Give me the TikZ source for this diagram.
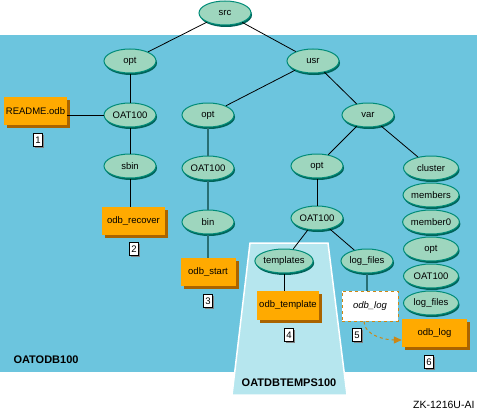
\documentclass[tikz,border=0pt]{standalone}
\usepackage{fontspec}
\setmainfont{Liberation Sans}
\usetikzlibrary{shapes.geometric,shadows,arrows.meta}

\definecolor{bgblue}{RGB}{108,197,222}
\definecolor{panelcyan}{RGB}{182,230,238}
\definecolor{mint}{RGB}{158,214,190}
\definecolor{tealedge}{RGB}{0,140,120}
\definecolor{tealshadow}{RGB}{0,100,90}
\definecolor{tealline}{RGB}{40,110,115}
\definecolor{boxorange}{RGB}{255,170,0}
\definecolor{boxshadow}{RGB}{170,100,0}
\definecolor{dashorange}{RGB}{205,135,20}

\tikzset{
  dir/.style={ellipse, draw=tealedge, line width=1pt, fill=mint,
    minimum width=52pt, minimum height=24pt, inner sep=0pt,
    drop shadow={shadow xshift=1pt, shadow yshift=-2pt, fill=tealshadow, opacity=1}},
  file/.style={rectangle, fill=boxorange, minimum height=28pt, inner sep=0pt,
    drop shadow={shadow xshift=3pt, shadow yshift=-3pt, fill=boxshadow, opacity=1}},
  ghost/.style={rectangle, fill=white, draw=dashorange, dashed, line width=1pt,
    minimum height=30pt, inner sep=0pt},
  tag/.style={rectangle, draw=black, fill=white, line width=0.6pt, inner sep=0pt,
    minimum width=9pt, minimum height=13pt,
    drop shadow={shadow xshift=1pt, shadow yshift=-1pt, fill=gray, opacity=1}},
  link/.style={line width=0.8pt},
  tlink/.style={draw=tealline, line width=1.6pt},
  caption/.style={font=\fontsize{11}{12}\selectfont\bfseries},
}

\begin{document}
\begin{tikzpicture}[x=1pt, y=-1pt, font=\fontsize{9.5}{11}\selectfont]
        \useasboundingbox (0,0) rectangle (478,412);
        \fill [bgblue]    (0,35) rectangle (477,372);                          % OATODB100 area
        \draw [line width=1.5pt, draw=white, fill=panelcyan]
                          (250,243) -- (328,243) -- (347,395) -- (232,395) -- cycle; % OATDBTEMPS100 area

        \node [dir] (src)     at (225,13)  {src};          %
        \node [dir] (optA)    at (130,61)  {opt};          %
        \node [dir] (usr)     at (313,61)  {usr};          %
        \node [dir] (oatA)    at (130,115) {OAT100};       %
        \node [dir] (sbin)    at (130,166) {sbin};         %
        \node [dir] (optB)    at (208,115) {opt};          %
        \node [dir] (oatB)    at (208,168) {OAT100};       %
        \node [dir] (bin)     at (208,222) {bin};          %
        \node [dir] (var)     at (368,115) {var};          %
        \node [dir] (optC)    at (317,166) {opt};          %
        \node [dir] (oatC)    at (317,218) {OAT100};       %
        \node [dir] (tmpl)    at (284,261) {templates};    %
        \node [dir] (logC)    at (367,261) {log\_files};   %

        \node [dir, minimum width=55pt] (cluster) at (431,168) {cluster};    % cluster stack
        \node [dir, minimum width=55pt] (members) at (431,195) {members};    %
        \node [dir, minimum width=55pt] (memzero) at (431,222) {member0};    %
        \node [dir, minimum width=55pt] (optD)    at (431,249) {opt};        %
        \node [dir, minimum width=55pt] (oatD)    at (431,276) {OAT100};     %
        \node [dir, minimum width=55pt] (logD)    at (431,303) {log\_files}; %

        \node [file, minimum width=63pt] (readme)   at (35.5,111)  {README.odb};   %1
        \node [file, minimum width=63pt] (recover)  at (133.5,221) {odb\_recover}; %2
        \node [file, minimum width=55pt] (start)    at (208,272)   {odb\_start};   %3
        \node [file, minimum width=62pt, minimum height=29pt]
                                         (template) at (288,305.5) {odb\_template};%4
        \node [ghost, minimum width=56pt] (dlog)    at (370,306)   {\itshape odb\_log}; %5
        \node [file, minimum width=65pt] (log)      at (434.5,333) {odb\_log};     %6

        \node [tag] (n1) at (38,140)  {1};
        \node [tag] (n2) at (134,249) {2};
        \node [tag] (n3) at (208,301) {3};
        \node [tag] (n4) at (289,335) {4};
        \node [tag] (n5) at (357,335) {5};
        \node [tag] (n6) at (429,362) {6};

        \node [caption, anchor=west] (odbname) at (10,360)  {OATODB100};
        \node [caption]              (tmpname) at (289,383) {OATDBTEMPS100};
        \node [anchor=east, font=\fontsize{10.5}{12}\selectfont] (zk) at (478,405) {ZK-1216U-AI};

        \draw [link]  (src)  -- (optA);
        \draw [link]  (src)  -- (usr);
        \draw [link]  (optA) -- (oatA);
        \draw [link]  (oatA.west) -- (oatA.west -| readme.east);
        \draw [link]  (oatA) -- (sbin);
        \draw [link]  (sbin) -- (sbin |- recover.north);
        \draw [link]  (usr)  -- (optB);
        \draw [link]  (usr)  -- (var);
        \draw [tlink] (optB) -- (oatB);
        \draw [tlink] (oatB) -- (bin);
        \draw [tlink] (bin)  -- (start);
        \draw [link]  (var)  -- (optC);
        \draw [link]  (var)  -- (cluster);
        \draw [link]  (optC) -- (oatC);
        \draw [link]  (oatC) -- (tmpl);
        \draw [link]  (oatC) -- (logC);
        \draw [link]  (tmpl) -- (tmpl |- template.north);
        \draw [tlink] (logC) -- (logC |- dlog.north);
        \draw [dashorange, dashed, line width=1pt, -{Triangle[length=8pt,width=7pt]}]
              ([xshift=-6pt]dlog.south) .. controls +(0,14) and +(-16,0) .. ([yshift=-7pt]log.west);
\end{tikzpicture}
\end{document}
